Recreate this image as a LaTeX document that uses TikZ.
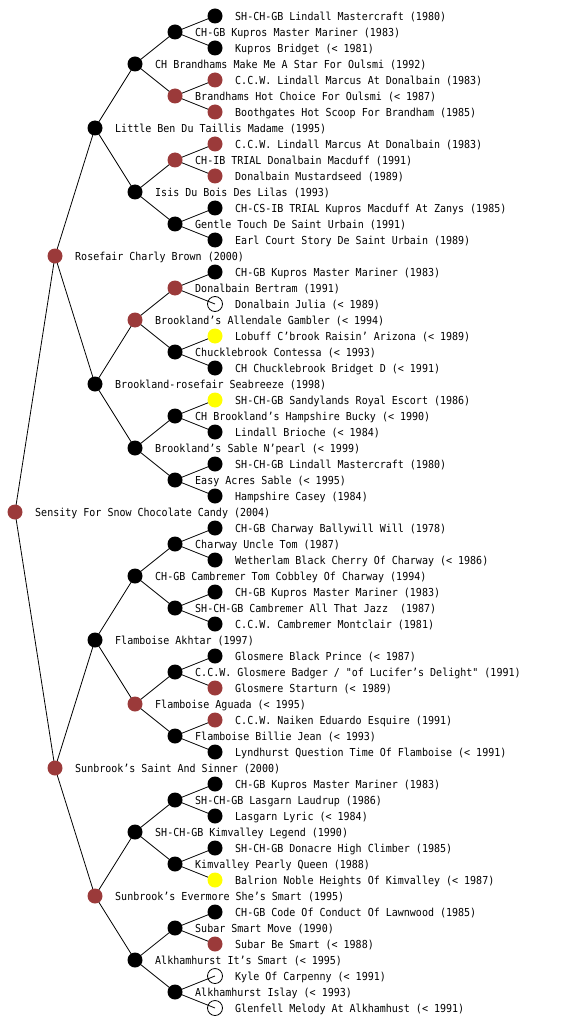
\documentclass[tikz,border=0pt]{standalone}
\usepackage{fontspec}
\newfontfamily\pedfont{DejaVu Sans Mono}[FakeStretch=0.91]
\usetikzlibrary{backgrounds}
\definecolor{pedred}{RGB}{155,58,58}
\definecolor{pedyel}{RGB}{255,255,0}
\newcommand\pdog[4]{%
  \node[#3] (n#1) at ({15+40*#2},{16*#1}) {};
  \node[txt] (t#1) at ({35+40*#2},{16*#1+4.5}) {#4};}
\begin{document}
\begin{tikzpicture}[x=1pt,y=-1pt,
  dog/.style={circle,inner sep=0pt,minimum size=15pt},
  bdog/.style={dog,fill=black},
  rdog/.style={dog,fill=pedred},
  ydog/.style={dog,fill=pedyel},
  wdog/.style={dog,draw=black,line width=0.8pt},
  txt/.style={anchor=base west,inner sep=0pt,font=\pedfont\fontsize{11}{13}\selectfont},
  edge/.style={line width=0.8pt,black}]
\useasboundingbox (0,0) rectangle (560,1024);

\pdog{1}{5}{bdog}{SH-CH-GB Lindall Mastercraft (1980)}
\pdog{2}{4}{bdog}{CH-GB Kupros Master Mariner (1983)}
\pdog{3}{5}{bdog}{Kupros Bridget (< 1981)}
\pdog{4}{3}{bdog}{CH Brandhams Make Me A Star For Oulsmi (1992)}
\pdog{5}{5}{rdog}{C.C.W. Lindall Marcus At Donalbain (1983)}
\pdog{6}{4}{rdog}{Brandhams Hot Choice For Oulsmi (< 1987)}
\pdog{7}{5}{rdog}{Boothgates Hot Scoop For Brandham (1985)}
\pdog{8}{2}{bdog}{Little Ben Du Taillis Madame (1995)}
\pdog{9}{5}{rdog}{C.C.W. Lindall Marcus At Donalbain (1983)}
\pdog{10}{4}{rdog}{CH-IB TRIAL Donalbain Macduff (1991)}
\pdog{11}{5}{rdog}{Donalbain Mustardseed (1989)}
\pdog{12}{3}{bdog}{Isis Du Bois Des Lilas (1993)}
\pdog{13}{5}{bdog}{CH-CS-IB TRIAL Kupros Macduff At Zanys (1985)}
\pdog{14}{4}{bdog}{Gentle Touch De Saint Urbain (1991)}
\pdog{15}{5}{bdog}{Earl Court Story De Saint Urbain (1989)}
\pdog{16}{1}{rdog}{Rosefair Charly Brown (2000)}
\pdog{17}{5}{bdog}{CH-GB Kupros Master Mariner (1983)}
\pdog{18}{4}{rdog}{Donalbain Bertram (1991)}
\pdog{19}{5}{wdog}{Donalbain Julia (< 1989)}
\pdog{20}{3}{rdog}{Brookland’s Allendale Gambler (< 1994)}
\pdog{21}{5}{ydog}{Lobuff C’brook Raisin’ Arizona (< 1989)}
\pdog{22}{4}{bdog}{Chucklebrook Contessa (< 1993)}
\pdog{23}{5}{bdog}{CH Chucklebrook Bridget D (< 1991)}
\pdog{24}{2}{bdog}{Brookland-rosefair Seabreeze (1998)}
\pdog{25}{5}{ydog}{SH-CH-GB Sandylands Royal Escort (1986)}
\pdog{26}{4}{bdog}{CH Brookland’s Hampshire Bucky (< 1990)}
\pdog{27}{5}{bdog}{Lindall Brioche (< 1984)}
\pdog{28}{3}{bdog}{Brookland’s Sable N’pearl (< 1999)}
\pdog{29}{5}{bdog}{SH-CH-GB Lindall Mastercraft (1980)}
\pdog{30}{4}{bdog}{Easy Acres Sable (< 1995)}
\pdog{31}{5}{bdog}{Hampshire Casey (1984)}
\pdog{32}{0}{rdog}{Sensity For Snow Chocolate Candy (2004)}
\pdog{33}{5}{bdog}{CH-GB Charway Ballywill Will (1978)}
\pdog{34}{4}{bdog}{Charway Uncle Tom (1987)}
\pdog{35}{5}{bdog}{Wetherlam Black Cherry Of Charway (< 1986)}
\pdog{36}{3}{bdog}{CH-GB Cambremer Tom Cobbley Of Charway (1994)}
\pdog{37}{5}{bdog}{CH-GB Kupros Master Mariner (1983)}
\pdog{38}{4}{bdog}{SH-CH-GB Cambremer All That Jazz\ \ (1987)}
\pdog{39}{5}{bdog}{C.C.W. Cambremer Montclair (1981)}
\pdog{40}{2}{bdog}{Flamboise Akhtar (1997)}
\pdog{41}{5}{bdog}{Glosmere Black Prince (< 1987)}
\pdog{42}{4}{bdog}{C.C.W. Glosmere Badger / "of Lucifer’s Delight" (1991)}
\pdog{43}{5}{rdog}{Glosmere Starturn (< 1989)}
\pdog{44}{3}{rdog}{Flamboise Aguada (< 1995)}
\pdog{45}{5}{rdog}{C.C.W. Naiken Eduardo Esquire (1991)}
\pdog{46}{4}{bdog}{Flamboise Billie Jean (< 1993)}
\pdog{47}{5}{bdog}{Lyndhurst Question Time Of Flamboise (< 1991)}
\pdog{48}{1}{rdog}{Sunbrook’s Saint And Sinner (2000)}
\pdog{49}{5}{bdog}{CH-GB Kupros Master Mariner (1983)}
\pdog{50}{4}{bdog}{SH-CH-GB Lasgarn Laudrup (1986)}
\pdog{51}{5}{bdog}{Lasgarn Lyric (< 1984)}
\pdog{52}{3}{bdog}{SH-CH-GB Kimvalley Legend (1990)}
\pdog{53}{5}{bdog}{SH-CH-GB Donacre High Climber (1985)}
\pdog{54}{4}{bdog}{Kimvalley Pearly Queen (1988)}
\pdog{55}{5}{ydog}{Balrion Noble Heights Of Kimvalley (< 1987)}
\pdog{56}{2}{rdog}{Sunbrook’s Evermore She’s Smart (1995)}
\pdog{57}{5}{bdog}{CH-GB Code Of Conduct Of Lawnwood (1985)}
\pdog{58}{4}{bdog}{Subar Smart Move (1990)}
\pdog{59}{5}{rdog}{Subar Be Smart (< 1988)}
\pdog{60}{3}{bdog}{Alkhamhurst It’s Smart (< 1995)}
\pdog{61}{5}{wdog}{Kyle Of Carpenny (< 1991)}
\pdog{62}{4}{bdog}{Alkhamhurst Islay (< 1993)}
\pdog{63}{5}{wdog}{Glenfell Melody At Alkhamhust (< 1991)}

\begin{scope}[on background layer]
\foreach \p/\c in {32/16,32/48,
  16/8,16/24,48/40,48/56,
  8/4,8/12,24/20,24/28,40/36,40/44,56/52,56/60,
  4/2,4/6,12/10,12/14,20/18,20/22,28/26,28/30,36/34,36/38,44/42,44/46,52/50,52/54,60/58,60/62,
  2/1,2/3,6/5,6/7,10/9,10/11,14/13,14/15,18/17,18/19,22/21,22/23,26/25,26/27,30/29,30/31,
  34/33,34/35,38/37,38/39,42/41,42/43,46/45,46/47,50/49,50/51,54/53,54/55,58/57,58/59,62/61,62/63}
  \draw[edge] (n\p.center) -- (n\c.center);
\end{scope}
\end{tikzpicture}
\end{document}
